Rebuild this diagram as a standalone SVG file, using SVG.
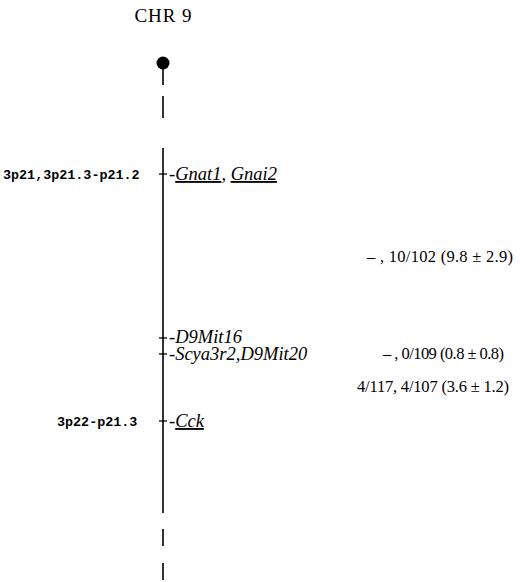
<svg xmlns="http://www.w3.org/2000/svg" width="520" height="582" viewBox="0 0 520 582">
<style>
.ln{stroke:#000;stroke-width:1.6;fill:none}
.tk{stroke:#000;stroke-width:1.3}
.g{font-family:"Liberation Serif",serif;font-style:italic;font-size:18.5px;fill:#000}
.u{text-decoration:underline}
.m{font-family:"Liberation Mono",monospace;font-weight:bold;font-size:13.4px;fill:#000}
.r{font-family:"Liberation Serif",serif;font-size:16.5px;fill:#000}
</style>
<rect width="520" height="582" fill="#fff"/>
<text x="163" y="22" text-anchor="middle" font-family="Liberation Serif,serif" font-size="19" textLength="57">CHR 9</text>
<g id="chromosome">
<circle cx="163" cy="63" r="6.5" fill="#000"/>
<line class="ln" x1="163" y1="63" x2="163" y2="85"/>
<line class="ln" x1="163" y1="96" x2="163" y2="118"/>
<line class="ln" x1="163" y1="148" x2="163" y2="513"/>
<line class="ln" x1="163" y1="529" x2="163" y2="546"/>
<line class="ln" x1="163" y1="563" x2="163" y2="580"/>
</g>
<g id="connectors">
<line class="tk" x1="159" y1="174" x2="167" y2="174"/>
<line class="tk" x1="159" y1="338" x2="167" y2="338"/>
<line class="tk" x1="159" y1="354" x2="167" y2="354"/>
<line class="tk" x1="159" y1="421" x2="167" y2="421"/>
</g>
<g id="gnat">
<text class="m" x="3" y="179">3p21,3p21.3-p21.2</text>
<text class="g" x="169" y="180">-<tspan class="u">Gnat1</tspan>, <tspan class="u">Gnai2</tspan></text>
</g>
<g id="d9mit16"><text class="g" x="169" y="343">-D9Mit16</text></g>
<g id="scya"><text class="g" x="169" y="360">-Scya3r2,D9Mit20</text></g>
<g id="cck">
<text class="m" x="57" y="426">3p22-p21.3</text>
<text class="g" x="169" y="427">-<tspan class="u">Cck</tspan></text>
</g>
<g id="distances">
<text class="r" x="367" y="262" textLength="146">– , 10/102 (9.8 ± 2.9)</text>
<text class="r" x="383" y="359" textLength="121">– , 0/109 (0.8 ± 0.8)</text>
<text class="r" x="357" y="392" textLength="152">4/117, 4/107 (3.6 ± 1.2)</text>
</g>
</svg>
